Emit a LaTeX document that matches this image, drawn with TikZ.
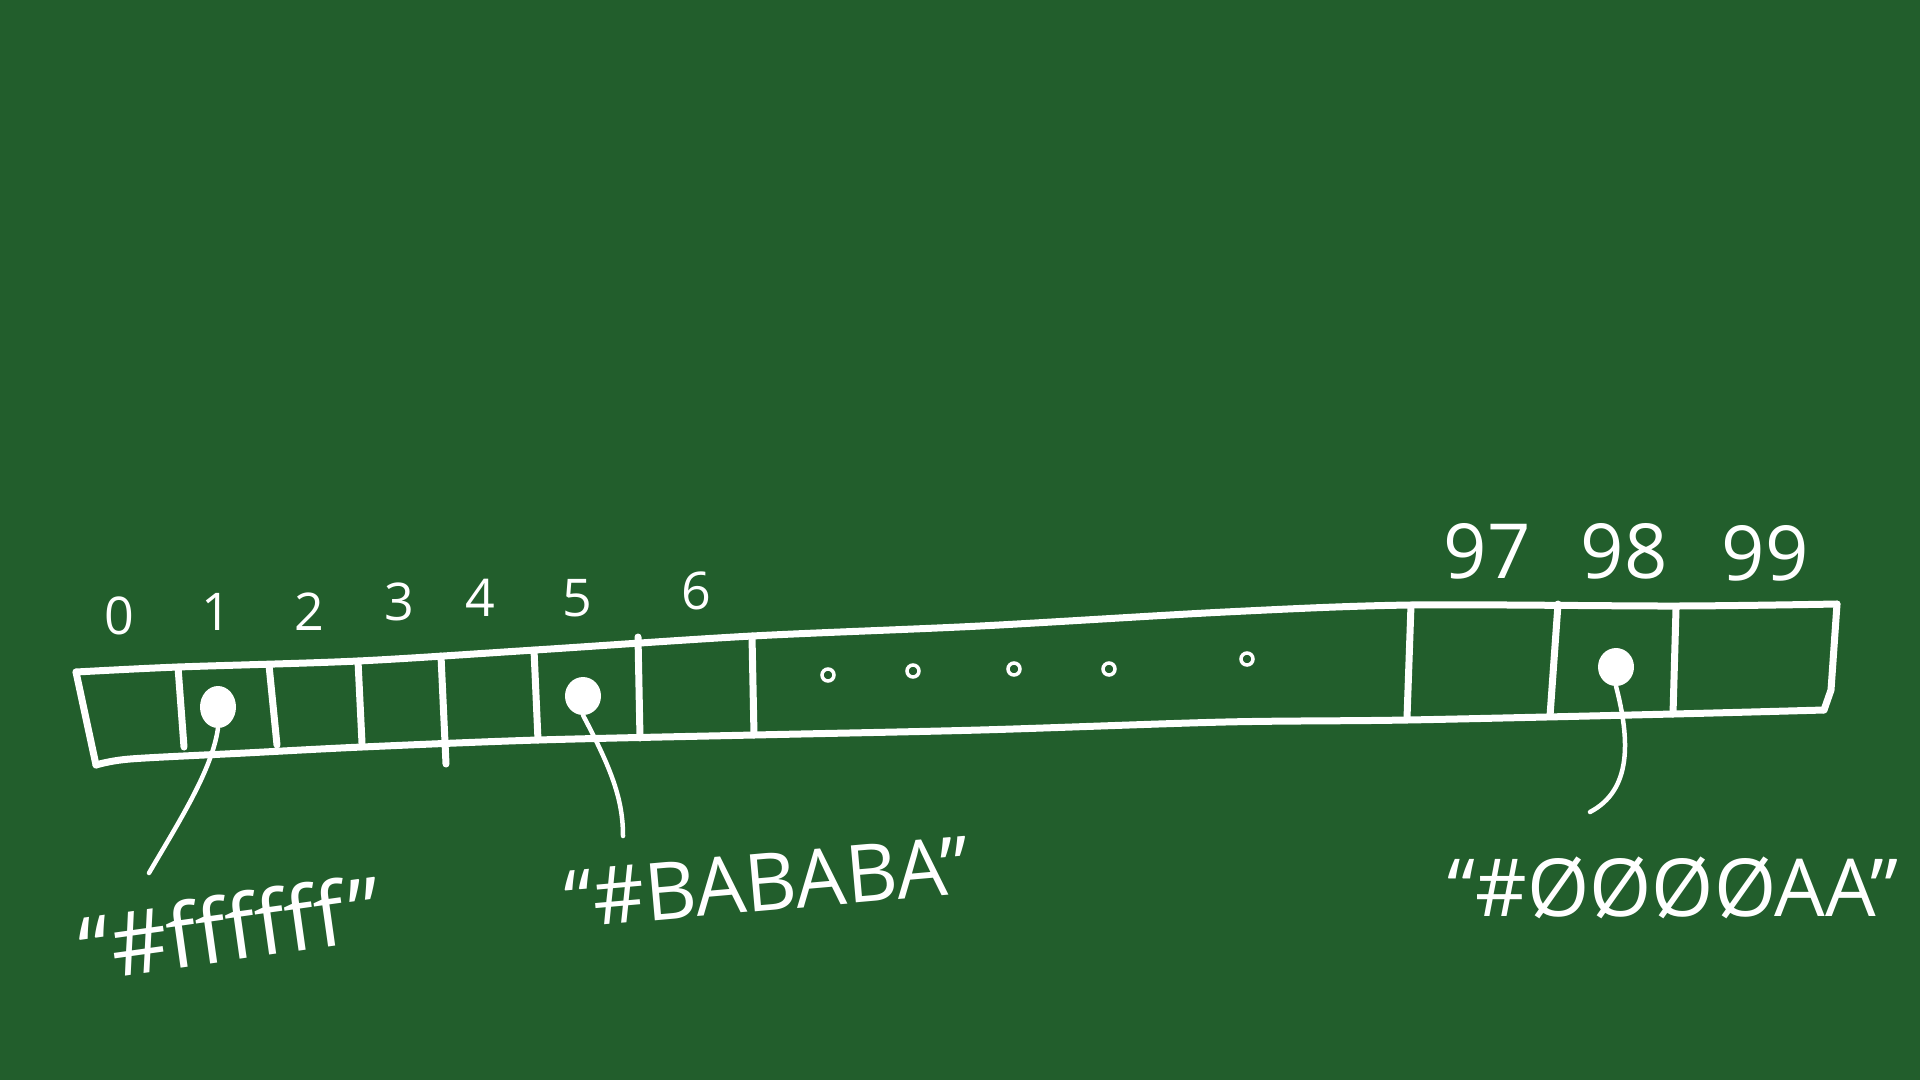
\documentclass[tikz,border=0pt]{standalone}
\usepackage{fontspec}
\setmainfont{Open Sans}
\usetikzlibrary{shapes.geometric}
\definecolor{board}{RGB}{34,94,44}
\tikzset{
  chalk/.style={draw=white,line width=7pt,line cap=round,line join=round},
  thinchalk/.style={draw=white,line width=4.5pt,line cap=round},
  idx/.style={text=white,inner sep=0pt,font=\fontsize{52}{60}\selectfont},
  bigidx/.style={text=white,inner sep=0pt,font=\fontsize{76}{90}\selectfont},
  pin/.style={ellipse,fill=white,inner sep=0pt,minimum width=36pt,minimum height=38pt},
  gap/.style={circle,draw=white,line width=3.5pt,inner sep=0pt,minimum size=12pt},
  hexlbl/.style={text=white,inner sep=0pt,font=\fontsize{80}{96}\selectfont}
}

\begin{document}
\begin{tikzpicture}[x=1pt,y=-1pt]
  \fill[board] (0,0) rectangle (1920,1080);
  \useasboundingbox (0,0) rectangle (1920,1080);
  % the array strip
  \draw[chalk] plot[smooth,tension=0.5] coordinates {(76,672) (178,667) (358,661) (535,650) (752,636) (980,626) (1225,612) (1411,605) (1676,606) (1837,604)};
  \draw[chalk] plot[smooth,tension=0.5] coordinates {(96,765) (130,759) (245,753) (362,747) (538,740) (754,735) (980,730) (1225,722) (1407,720) (1673,714) (1824,710)};
  \draw[chalk] (76,672) -- (96,765);
  \draw[chalk] (1837,604) -- (1831,690) -- (1824,710);
  \foreach \xa/\ya/\xb/\yb in {178/667/184/747, 269/665/277/745, 358/661/362/743, 441/656/446/764,
      534/650/538/740, 638/637/640/738, 752/636/754/735, 1411/605/1407/718, 1558/604/1550/716, 1676/609/1673/714}
    \draw[chalk] (\xa,\ya) -- (\xb,\yb);
  % indices
  \foreach \x/\y/\t in {119/616/0, 216/612/1, 309/612/2, 399/602/3, 480/598/4, 577/598/5, 696/591/6}
    \node[idx] (i\t) at (\x,\y) {\t};
  \foreach \x/\y/\t in {1487/551/97, 1624/551/98, 1765/553/99}
    \node[bigidx] (i\t) at (\x,\y) {\t};
  % elided cells
  \foreach \x/\y [count=\k] in {828/675, 913/671, 1014/669, 1109/669, 1247/659}
    \node[gap] (d\k) at (\x,\y) {};
  % stored values
  \node[pin,minimum height=42pt] (p1) at (218,707) {};
  \node[pin] (p5) at (583,696) {};
  \node[pin] (p98) at (1616,667) {};
  \coordinate (e1) at (149,873);
  \coordinate (e5) at (623,836);
  \coordinate (e98) at (1590,812);
  \draw[thinchalk] (p1.south) .. controls (212,770) and (180,820) .. (e1);
  \draw[thinchalk] (p5.south) .. controls (612,770) and (623,800) .. (e5);
  \draw[thinchalk] (p98.south) .. controls (1630,740) and (1632,790) .. (e98);
  \node[hexlbl,font=\fontsize{88}{100}\selectfont,rotate=8] (v1) at (230,927) {“\#ffffff”};
  \node[hexlbl,rotate=5] (v5) at (767,882) {“\#BABABA”};
  \node[hexlbl] (v98) at (1673,888) {“\#ØØØØAA”};
\end{tikzpicture}
\end{document}
